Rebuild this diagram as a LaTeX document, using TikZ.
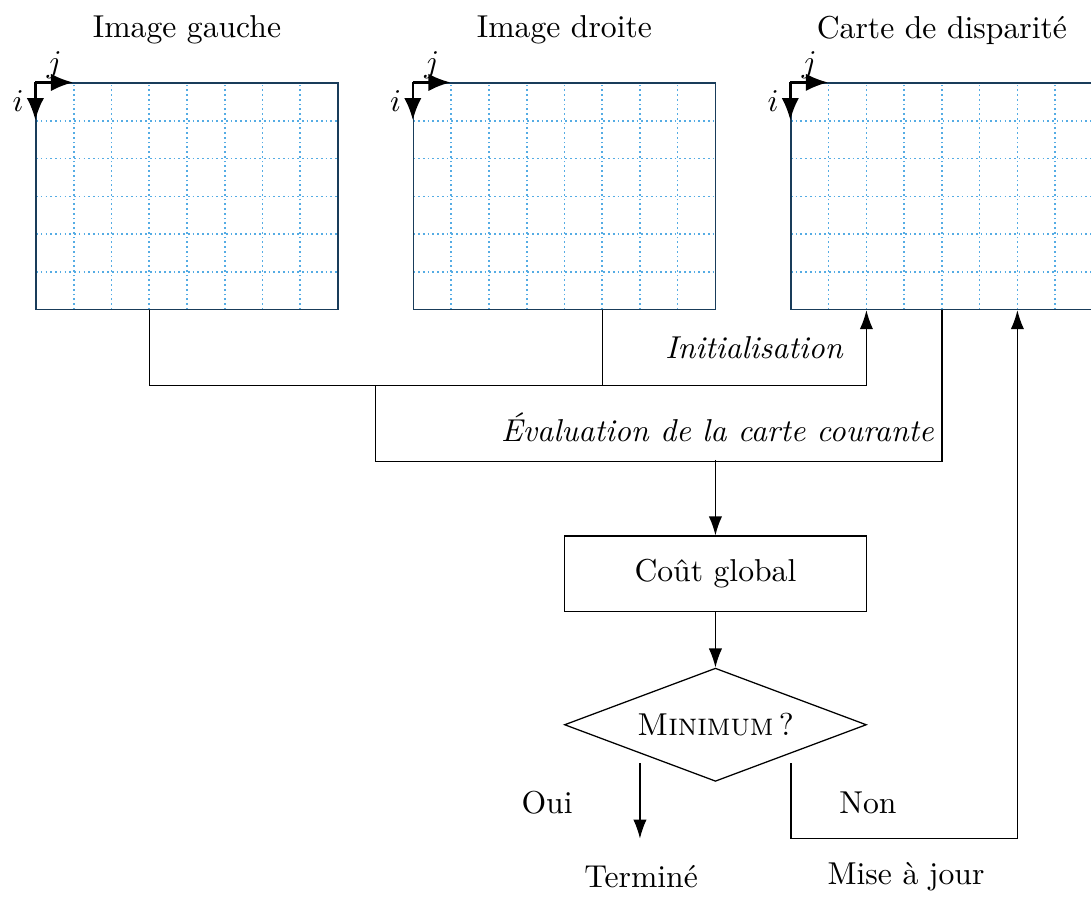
\documentclass[tikz,border=0pt]{standalone}
\usepackage{amsmath}
\usepackage{tikz}
\usetikzlibrary{
    calc,positioning,arrows.meta,shapes.geometric
}
\definecolor{gridblue}{RGB}{85,172,228}
\definecolor{framedark}{RGB}{25,60,90}
\newlength\pas
\setlength\pas{0.419cm}
\tikzset{
    gridline/.style={gridblue, densely dotted, line width=0.5pt, step=\pas},
    image/.style={rectangle, draw=framedark, minimum width=8\pas, minimum height=6\pas, inner sep=0pt,
        path picture={\draw[gridline] (path picture bounding box.south west) grid (path picture bounding box.north east);}},
    axis/.style={-{Latex[length=7pt,width=5.5pt]}, thick},
    line/.style={-{Latex[length=6pt,width=4.2pt]}},
    block/.style={rectangle, draw=black, minimum width=8\pas, minimum height=2\pas},
    decision/.style={diamond, draw=black, aspect=2.67, inner sep=0pt, minimum width=8\pas, minimum height=3\pas},
    legend/.style={font=\itshape},
}

\begin{document}
\begin{tikzpicture}
        [x=\pas, y=\pas]
        \useasboundingbox (-0.954,2.2) rectangle (27.95,-21.56);

        % The three images
        \node[image] (gauche) at (4,-3) {};
        \node[image] (droite) at (14,-3) {};
        \node[image] (carte) at (24,-3) {};
        \node[above=0.3cm of gauche] (titre gauche) {Image gauche};
        \node[above=0.3cm of droite] (titre droite) {Image droite};
        \node[above=0.3cm of carte] (titre carte) {Carte de disparit\'e};

        % Axes of each image
        \foreach \img in {gauche,droite,carte}{
            \draw[axis] (\img.north west) -- ++(1,0) node[midway,above,inner sep=0.8pt] {$j$};
            \draw[axis] (\img.north west) -- ++(0,-1) node[midway,left] {$i$};
        }

        % Flow nodes
        \node[block] (cout) at (18,-13) {Co\^ut global};
        \node[decision] (minimum) at (18,-17) {\textsc{Minimum}\,?};
        \coordinate (jonction) at ($(gauche.south)+(5,-2)$);

        % Initialisation
        \draw[line] ($(gauche.south)+(-1,0)$) |- ($(jonction)+(4,0)$) -| ($(carte.south)+(-2,0)$);
        \draw ($(droite.south)+(1,0)$) -- ++(0,-2);
        \node[legend] (init) at (19.02,-7.0) {Initialisation};

        % Evaluation of the current map
        \draw (carte.south) |- ($(jonction)+(0,-2)$) -- (jonction);
        \node[legend] (eval) at (18.05,-9.12) {\'Evaluation de la carte courante};
        \draw[line] ($(cout.north)+(0,2)$) -- (cout);
        \draw[line] (cout) -- (minimum);

        % Decision
        \draw[line] ($(minimum.south)+(-2,0.5)$) -- ++(0,-2);
        \draw[line] ($(minimum.south)+(2,0.5)$) -- ++(0,-2) -| ($(carte.south)+(2,0)$);
        \node (oui) at (13.54,-19.07) {Oui};
        \node (non) at (22.04,-19.07) {Non};
        \node (fin) at (16.03,-21.03) {Termin\'e};
        \node (maj) at (23.05,-21.03) {Mise \`a jour};
\end{tikzpicture}
\end{document}
